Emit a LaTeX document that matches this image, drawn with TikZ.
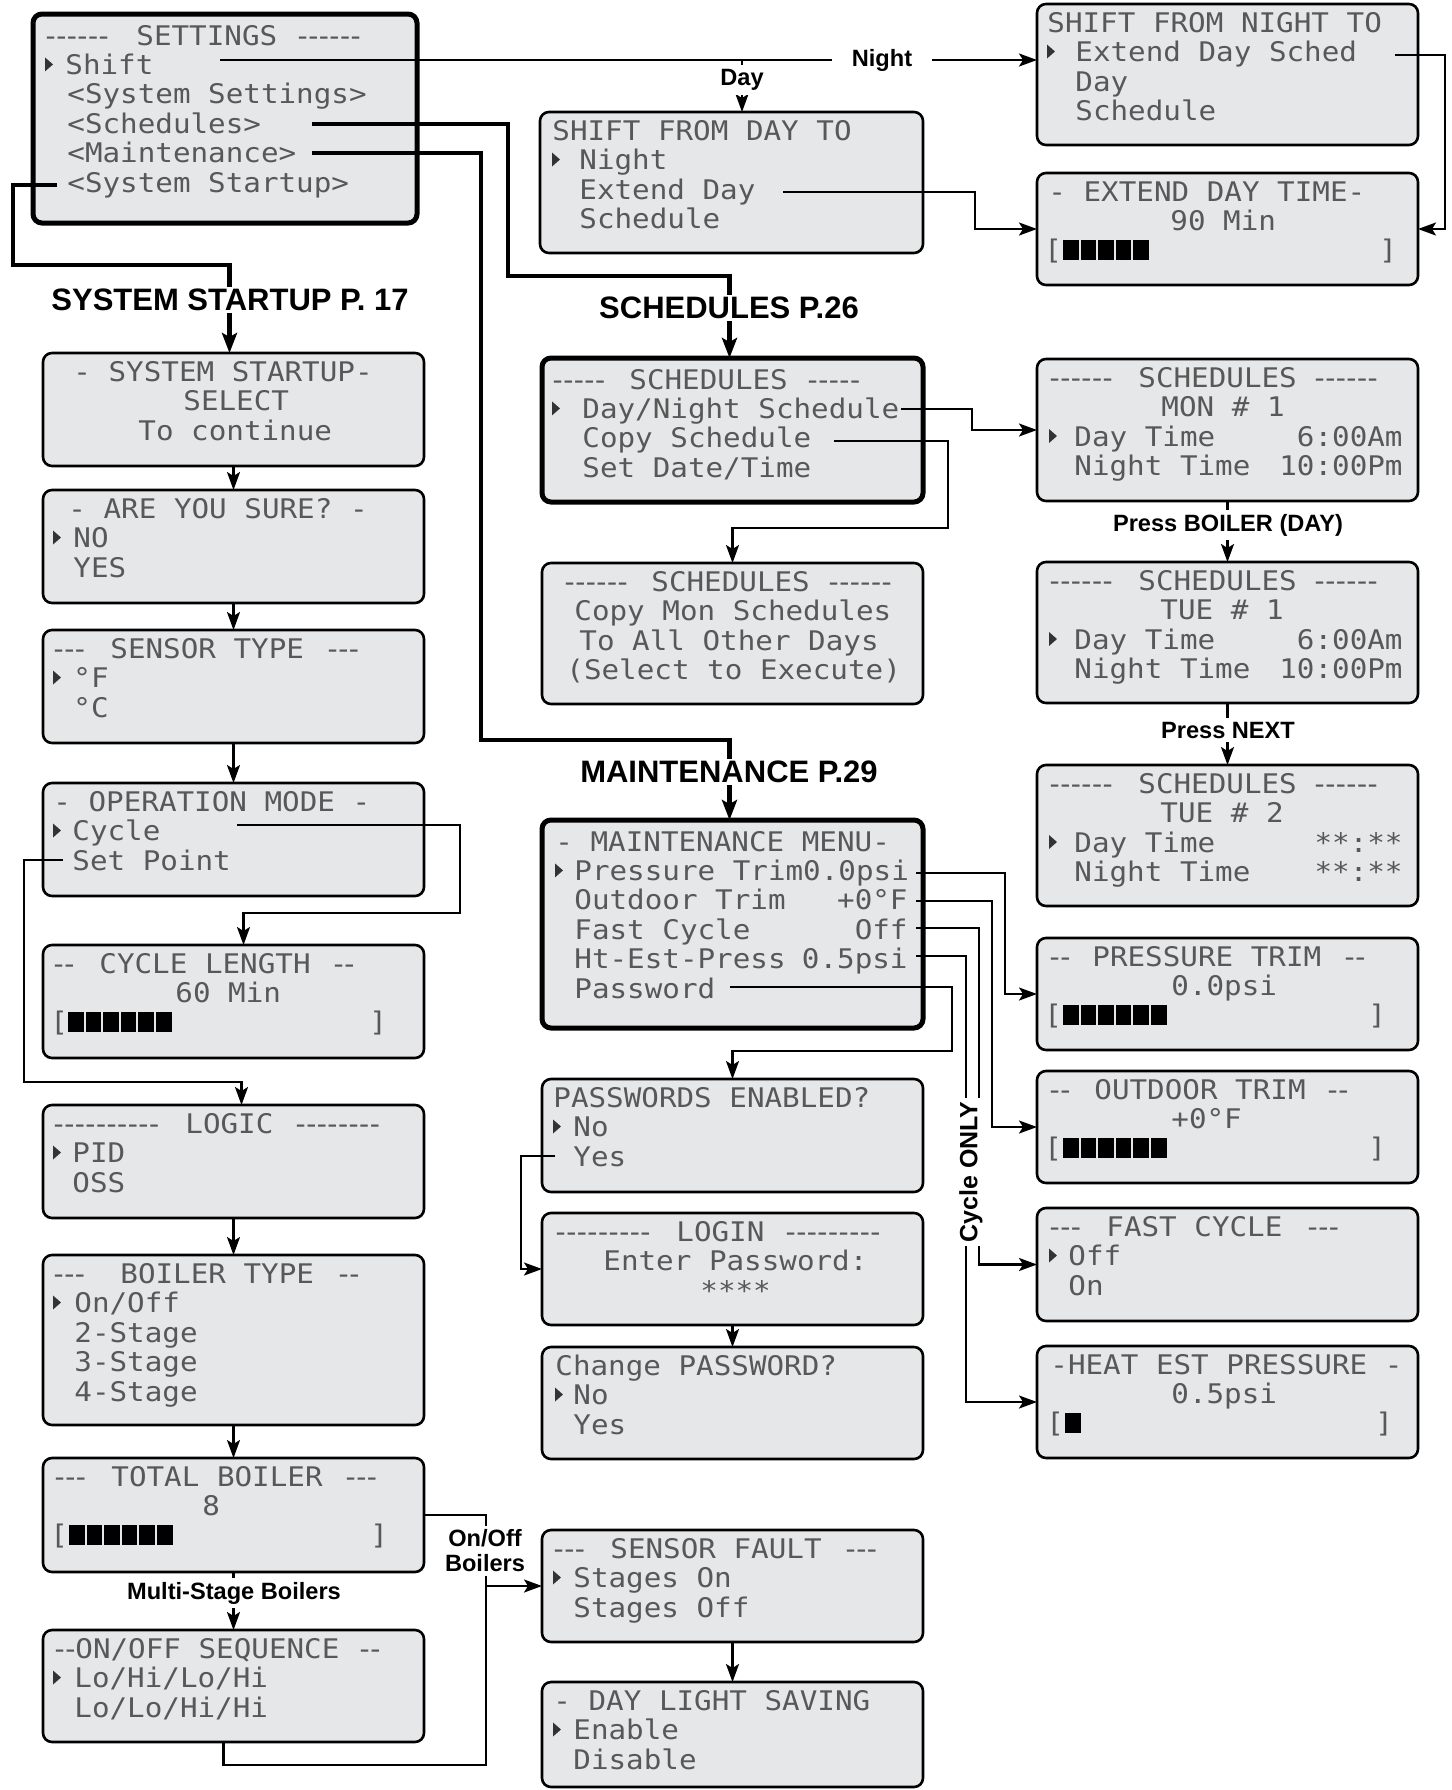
\documentclass[tikz,border=0pt]{standalone}
\usepackage{fontspec}
\setmainfont{Liberation Sans}
\newfontfamily\lcdfont{DejaVu Sans Mono}[FakeStretch=1.083]
\usetikzlibrary{arrows.meta,fit}
\definecolor{lcdbg}{RGB}{230,231,232}
\definecolor{lcdtx}{RGB}{88,88,88}
\newcounter{tn}
\newcommand\lcdtxt[3]{\stepcounter{tn}\edef\lcdnm{tx\arabic{tn}}\node[lcd,anchor=base west] (\lcdnm) at (#1,#2) {#3};}
\newcommand\lcdtxtR[3]{\stepcounter{tn}\edef\lcdnm{tx\arabic{tn}}\node[lcd,anchor=base east] (\lcdnm) at (#1,#2) {#3};}
\newcommand\lcdmark[2]{\fill[black!80] (#1,#2-17) -- (#1+8,#2-10) -- (#1,#2-3) -- cycle;}
\newcommand\lcdblocks[3]{\foreach \k in {1,...,#3} {\fill[black] ({#1+(\k-1)*17.6},#2-10) rectangle ++(15.6,20);}}
\newcommand\lcdd{\makebox[5.3pt][c]{-}}
\newcommand\lcdpanel[6]{\node[#6,fit={(#2,#3) (#4,#5)}] (#1) {};}
\tikzset{
  panel/.style={draw=black, line width=1.3pt, fill=lcdbg, rounded corners=4.5pt, inner sep=0pt, outer sep=0pt},
  thickpanel/.style={panel, line width=2.5pt},
  lcd/.style={font=\lcdfont\fontsize{13.5}{15}\selectfont, text=lcdtx, inner sep=0pt},
  wire/.style={line width=1.1pt},
  conn/.style={line width=1.1pt, -{Stealth[length=9pt,width=6.5pt,inset=2pt]}},
  tconn/.style={line width=2.3pt, -{Stealth[length=10pt,width=7.5pt,inset=2pt]}},
  biglbl/.style={font=\bfseries\fontsize{15.5}{17}\selectfont, fill=white, inner sep=1pt},
  lbl/.style={font=\bfseries\fontsize{11.8}{12.5}\selectfont, fill=white, inner sep=2pt},
}
\begin{document}
\begin{tikzpicture}[x=0.5pt,y=-0.5pt]
\useasboundingbox (0,0) rectangle (1452,1790);

% ---------------- panels ----------------
\lcdpanel{settings}{33}{14}{417}{223}{thickpanel}
\lcdpanel{shiftday}{540}{112}{923}{253}{panel}
\lcdpanel{shiftnight}{1037}{4}{1418}{145}{panel}
\lcdpanel{extday}{1037}{173}{1418}{285}{panel}
\lcdpanel{startup}{43}{353}{424}{466}{panel}
\lcdpanel{sure}{43}{490}{424}{603}{panel}
\lcdpanel{sensor}{43}{630}{424}{743}{panel}
\lcdpanel{opmode}{43}{783}{424}{896}{panel}
\lcdpanel{cyclen}{43}{945}{424}{1058}{panel}
\lcdpanel{logic}{43}{1105}{424}{1218}{panel}
\lcdpanel{boiler}{43}{1255}{424}{1425}{panel}
\lcdpanel{total}{43}{1458}{424}{1572}{panel}
\lcdpanel{onoff}{43}{1630}{424}{1742}{panel}
\lcdpanel{sched}{542}{358}{923}{502}{thickpanel}
\lcdpanel{copy}{542}{563}{923}{704}{panel}
\lcdpanel{mon}{1037}{359}{1418}{501}{panel}
\lcdpanel{tue1}{1037}{562}{1418}{703}{panel}
\lcdpanel{tue2}{1037}{765}{1418}{906}{panel}
\lcdpanel{maint}{542}{820}{923}{1028}{thickpanel}
\lcdpanel{pwen}{542}{1079}{923}{1192}{panel}
\lcdpanel{login}{542}{1213}{923}{1325}{panel}
\lcdpanel{chpw}{542}{1347}{923}{1459}{panel}
\lcdpanel{ptrim}{1037}{938}{1418}{1050}{panel}
\lcdpanel{otrim}{1037}{1071}{1418}{1183}{panel}
\lcdpanel{fast}{1037}{1208}{1418}{1321}{panel}
\lcdpanel{heat}{1037}{1346}{1418}{1458}{panel}
\lcdpanel{sfault}{542}{1530}{923}{1642}{panel}
\lcdpanel{dls}{542}{1682}{923}{1787}{panel}

% ---------------- texts ----------------
% settings
\lcdtxt{45}{45}{\lcdd\lcdd\lcdd\lcdd\lcdd\lcdd}
\lcdtxt{136}{45}{SETTINGS}
\lcdtxt{297}{45}{\lcdd\lcdd\lcdd\lcdd\lcdd\lcdd}
\lcdmark{45}{74.4}
\lcdtxt{65}{74.4}{Shift}
\lcdtxt{67}{103.8}{<System Settings>}
\lcdtxt{67}{133.2}{<Schedules>}
\lcdtxt{67}{162.6}{<Maintenance>}
\lcdtxt{67}{192}{<System Startup>}
% shift from day
\lcdtxt{552}{140}{SHIFT FROM DAY TO}
\lcdmark{552}{169.5}
\lcdtxt{579}{169.5}{Night}
\lcdtxt{579}{199}{Extend Day}
\lcdtxt{579}{228.5}{Schedule}
% shift from night
\lcdtxt{1047}{32}{SHIFT FROM NIGHT TO}
\lcdmark{1047}{61.5}
\lcdtxt{1075}{61.5}{Extend Day Sched}
\lcdtxt{1075}{91}{Day}
\lcdtxt{1075}{120.5}{Schedule}
% extend day time
\lcdtxt{1048}{201}{- EXTEND DAY TIME-}
\lcdtxt{1170}{230.5}{90 Min}
\lcdtxt{1044}{259}{[}
\lcdblocks{1063}{250}{5}
\lcdtxt{1379}{259}{]}
% system startup
\lcdtxt{73}{381}{- SYSTEM STARTUP-}
\lcdtxt{183}{410.5}{SELECT}
\lcdtxt{138}{440}{To continue}
% are you sure
\lcdtxt{68}{518}{- ARE YOU SURE? -}
\lcdmark{53}{547.5}
\lcdtxt{73}{547.5}{NO}
\lcdtxt{73}{577}{YES}
% sensor type
\lcdtxt{53}{658}{\lcdd\lcdd\lcdd}
\lcdtxt{110}{658}{SENSOR TYPE}
\lcdtxt{327}{658}{\lcdd\lcdd\lcdd}
\lcdmark{53}{687.5}
\lcdtxt{73}{687.5}{°F}
\lcdtxt{73}{717}{°C}
% operation mode
\lcdtxt{53}{811}{- OPERATION MODE -}
\lcdmark{53}{840.5}
\lcdtxt{72}{840.5}{Cycle}
\lcdtxt{72}{870}{Set Point}
% cycle length
\lcdtxt{53}{973}{\lcdd\lcdd}
\lcdtxt{99}{973}{CYCLE LENGTH}
\lcdtxt{333}{973}{\lcdd\lcdd}
\lcdtxt{175}{1002.5}{60 Min}
\lcdtxt{50}{1031}{[}
\lcdblocks{68}{1022}{6}
\lcdtxt{369}{1031}{]}
% logic
\lcdtxt{53}{1133}{\lcdd\lcdd\lcdd\lcdd\lcdd\lcdd\lcdd\lcdd\lcdd\lcdd}
\lcdtxt{185}{1133}{LOGIC}
\lcdtxt{295}{1133}{\lcdd\lcdd\lcdd\lcdd\lcdd\lcdd\lcdd\lcdd}
\lcdmark{53}{1162.5}
\lcdtxt{72}{1162.5}{PID}
\lcdtxt{72}{1192}{OSS}
% boiler type
\lcdtxt{53}{1283}{\lcdd\lcdd\lcdd}
\lcdtxt{120}{1283}{BOILER TYPE}
\lcdtxt{338}{1283}{\lcdd\lcdd}
\lcdmark{53}{1312.5}
\lcdtxt{74}{1312.5}{On/Off}
\lcdtxt{74}{1342}{2-Stage}
\lcdtxt{74}{1371.5}{3-Stage}
\lcdtxt{74}{1401}{4-Stage}
% total boiler
\lcdtxt{54}{1486}{\lcdd\lcdd\lcdd}
\lcdtxt{111}{1486}{TOTAL BOILER}
\lcdtxt{345}{1486}{\lcdd\lcdd\lcdd}
\lcdtxt{202}{1515.5}{8}
\lcdtxt{50}{1544}{[}
\lcdblocks{69}{1535}{6}
\lcdtxt{370}{1544}{]}
% on/off sequence
\lcdtxt{54}{1658}{\lcdd\lcdd}
\lcdtxt{75}{1658}{ON/OFF SEQUENCE}
\lcdtxt{359}{1658}{\lcdd\lcdd}
\lcdmark{53}{1687.5}
\lcdtxt{74}{1687.5}{Lo/Hi/Lo/Hi}
\lcdtxt{74}{1717}{Lo/Lo/Hi/Hi}
% schedules main
\lcdtxt{552}{389}{\lcdd\lcdd\lcdd\lcdd\lcdd}
\lcdtxt{629}{389}{SCHEDULES}
\lcdtxt{807}{389}{\lcdd\lcdd\lcdd\lcdd\lcdd}
\lcdmark{552}{418.4}
\lcdtxt{582}{418.4}{Day/Night Schedule}
\lcdtxt{582}{447.8}{Copy Schedule}
\lcdtxt{582}{477.2}{Set Date/Time}
% copy schedules
\lcdtxt{564}{591}{\lcdd\lcdd\lcdd\lcdd\lcdd\lcdd}
\lcdtxt{651}{591}{SCHEDULES}
\lcdtxt{828}{591}{\lcdd\lcdd\lcdd\lcdd\lcdd\lcdd}
\lcdtxt{574}{620.5}{Copy Mon Schedules}
\lcdtxt{579}{650}{To All Other Days}
\lcdtxt{566}{679.5}{(Select to Execute)}
% MON #1
\lcdtxt{1049}{387}{\lcdd\lcdd\lcdd\lcdd\lcdd\lcdd}
\lcdtxt{1138}{387}{SCHEDULES}
\lcdtxt{1314}{387}{\lcdd\lcdd\lcdd\lcdd\lcdd\lcdd}
\lcdtxt{1161}{416.5}{MON \# 1}
\lcdmark{1049}{446}
\lcdtxt{1074}{446}{Day Time}
\lcdtxtR{1403}{446}{6:00Am}
\lcdtxt{1074}{475.5}{Night Time}
\lcdtxtR{1403}{475.5}{10:00Pm}
% TUE #1
\lcdtxt{1049}{590}{\lcdd\lcdd\lcdd\lcdd\lcdd\lcdd}
\lcdtxt{1138}{590}{SCHEDULES}
\lcdtxt{1314}{590}{\lcdd\lcdd\lcdd\lcdd\lcdd\lcdd}
\lcdtxt{1160}{619.5}{TUE \# 1}
\lcdmark{1049}{649}
\lcdtxt{1074}{649}{Day Time}
\lcdtxtR{1403}{649}{6:00Am}
\lcdtxt{1074}{678.5}{Night Time}
\lcdtxtR{1403}{678.5}{10:00Pm}
% TUE #2
\lcdtxt{1049}{793}{\lcdd\lcdd\lcdd\lcdd\lcdd\lcdd}
\lcdtxt{1138}{793}{SCHEDULES}
\lcdtxt{1314}{793}{\lcdd\lcdd\lcdd\lcdd\lcdd\lcdd}
\lcdtxt{1160}{822.5}{TUE \# 2}
\lcdmark{1049}{852}
\lcdtxt{1074}{852}{Day Time}
\lcdtxtR{1403}{852}{**:**}
\lcdtxt{1074}{881.5}{Night Time}
\lcdtxtR{1403}{881.5}{**:**}
% maintenance menu
\lcdtxt{555}{851}{- MAINTENANCE MENU-}
\lcdmark{555}{880.4}
\lcdtxt{574}{880.4}{Pressure Trim0.0psi}
\lcdtxt{574}{909.8}{Outdoor Trim}
\lcdtxtR{908}{909.8}{+0°F}
\lcdtxt{574}{939.2}{Fast Cycle}
\lcdtxtR{908}{939.2}{Off}
\lcdtxt{574}{968.6}{Ht-Est-Press}
\lcdtxtR{908}{968.6}{0.5psi}
\lcdtxt{574}{998}{Password}
% passwords enabled
\lcdtxt{553}{1107}{PASSWORDS ENABLED?}
\lcdmark{553}{1136.5}
\lcdtxt{573}{1136.5}{No}
\lcdtxt{573}{1166}{Yes}
% login
\lcdtxt{555}{1241}{\lcdd\lcdd\lcdd\lcdd\lcdd\lcdd\lcdd\lcdd\lcdd}
\lcdtxt{676}{1241}{LOGIN}
\lcdtxt{785}{1241}{\lcdd\lcdd\lcdd\lcdd\lcdd\lcdd\lcdd\lcdd\lcdd}
\lcdtxt{603}{1270.5}{Enter Password:}
\lcdtxt{700}{1300}{****}
% change password
\lcdtxt{555}{1375}{Change PASSWORD?}
\lcdmark{555}{1404.5}
\lcdtxt{573}{1404.5}{No}
\lcdtxt{573}{1434}{Yes}
% pressure trim
\lcdtxt{1049}{966}{\lcdd\lcdd}
\lcdtxt{1092}{966}{PRESSURE TRIM}
\lcdtxt{1344}{966}{\lcdd\lcdd}
\lcdtxt{1171}{995.5}{0.0psi}
\lcdtxt{1044}{1024}{[}
\lcdblocks{1063}{1015}{6}
\lcdtxt{1368}{1024}{]}
% outdoor trim
\lcdtxt{1049}{1099}{\lcdd\lcdd}
\lcdtxt{1094}{1099}{OUTDOOR TRIM}
\lcdtxt{1327}{1099}{\lcdd\lcdd}
\lcdtxt{1171}{1128.5}{+0°F}
\lcdtxt{1044}{1157}{[}
\lcdblocks{1063}{1148}{6}
\lcdtxt{1368}{1157}{]}
% fast cycle
\lcdtxt{1049}{1236}{\lcdd\lcdd\lcdd}
\lcdtxt{1106}{1236}{FAST CYCLE}
\lcdtxt{1307}{1236}{\lcdd\lcdd\lcdd}
\lcdmark{1049}{1265.5}
\lcdtxt{1068}{1265.5}{Off}
\lcdtxt{1068}{1295}{On}
% heat est pressure
\lcdtxt{1050}{1374}{-HEAT EST PRESSURE -}
\lcdtxt{1171}{1403.5}{0.5psi}
\lcdtxt{1046}{1432}{[}
\lcdblocks{1065}{1423}{1}
\lcdtxt{1375}{1432}{]}
% sensor fault
\lcdtxt{553}{1558}{\lcdd\lcdd\lcdd}
\lcdtxt{610}{1558}{SENSOR FAULT}
\lcdtxt{845}{1558}{\lcdd\lcdd\lcdd}
\lcdmark{553}{1587.5}
\lcdtxt{573}{1587.5}{Stages On}
\lcdtxt{573}{1617}{Stages Off}
% day light saving
\lcdtxt{553}{1710}{- DAY LIGHT SAVING}
\lcdmark{553}{1739.5}
\lcdtxt{573}{1739.5}{Enable}
\lcdtxt{573}{1769}{Disable}

% ---------------- connectors ----------------
\coordinate (c-shift) at (220,60);
\coordinate (c-day) at (742,60);
\draw[conn] (c-shift) -- (c-shift -| shiftnight.west);
\draw[conn] (c-day) -- (c-day |- shiftday.north);
\coordinate (c-ext) at (783,192);
\draw[conn] (c-ext) -- (975,192) |- (extday.west);
\coordinate (c-eds) at (1395,55);
\draw[conn] (c-eds) -- (1445,55) |- (extday.east);
\coordinate (c-dn) at (901,409);
\draw[conn] (c-dn) -- (972,409) |- (mon.west);
\coordinate (c-cp) at (834,441);
\draw[conn] (c-cp) -- (948,441) -- (948,528) -| (copy.north);
\draw[conn] (mon.south) -- (tue1.north);
\draw[conn] (tue1.south) -- (tue2.north);
\coordinate (c-pt) at (916,873);
\coordinate (c-ot) at (916,901);
\coordinate (c-fc) at (916,928);
\coordinate (c-he) at (916,956);
\coordinate (c-pw) at (730,987);
\draw[conn] (c-pt) -- (1005,873) |- (ptrim.west);
\draw[conn] (c-ot) -- (992,901) |- (otrim.west);
\draw[conn] (c-fc) -- (979,928) |- (fast.west);
\draw[conn] (c-he) -- (966,956) |- (heat.west);
\draw[conn] (c-pw) -- (952,987) -- (952,1051) -| (pwen.north);
\coordinate (c-yes) at (555,1156);
\draw[conn] (c-yes) -- (521,1156) |- (login.west);
\draw[conn] (login.south) -- (chpw.north);
\draw[conn] (startup.south) -- (sure.north);
\draw[conn] (sure.south) -- (sensor.north);
\draw[conn] (sensor.south) -- (opmode.north);
\coordinate (c-cy) at (237,825);
\draw[conn] (c-cy) -- (460,825) -- (460,913) -| ([xshift=5pt]cyclen.north);
\coordinate (c-sp) at (63,860);
\draw[conn] (c-sp) -- (24,860) -- (24,1082) -| ([xshift=4pt]logic.north);
\draw[conn] (logic.south) -- (boiler.north);
\draw[conn] (boiler.south) -- (total.north);
\draw[conn] (total.south) -- (onoff.north);
\draw[conn] (total.east) -| (486,1586) -- (sfault.west);
\draw[wire] ([xshift=-5pt]onoff.south) -- ++(0,23) -| (486,1586);
\draw[conn] (sfault.south) -- (dls.north);
% thick
\coordinate (c-ss) at (57,185);
\coordinate (c-sc) at (312,124);
\coordinate (c-mt) at (312,153);
\draw[tconn] (c-ss) -- (13,185) -- (13,265) -| ([xshift=-2pt]startup.north);
\draw[tconn] (c-sc) -- (508,124) -- (508,276) -| ([xshift=-1.5pt]sched.north);
\draw[tconn] (c-mt) -- (481,153) -- (481,740) -| ([xshift=-1.5pt]maint.north);

% ---------------- labels ----------------
\node[lbl, inner xsep=10pt] (l-night) at (882,60) {Night};
\node[lbl] (l-day) at (742,80) {Day};
\node[lbl] (l-pb) at (1228,525) {Press BOILER (DAY)};
\node[lbl] (l-pn) at (1228,730) {Press NEXT};
\node[lbl] (l-ms) at (234,1593) {Multi-Stage Boilers};
\node[lbl, align=center] (l-oo) at (485,1551) {On/Off\\Boilers};
\node[lbl, rotate=90, font=\bfseries\fontsize{12.5}{13}\selectfont] (l-co) at (971,1172) {Cycle ONLY};
\node[biglbl] (l-ss) at (230,300) {SYSTEM STARTUP P. 17};
\node[biglbl] (l-sc) at (729,308) {SCHEDULES P.26};
\node[biglbl] (l-mt) at (729,772) {MAINTENANCE P.29};
\end{tikzpicture}
\end{document}
